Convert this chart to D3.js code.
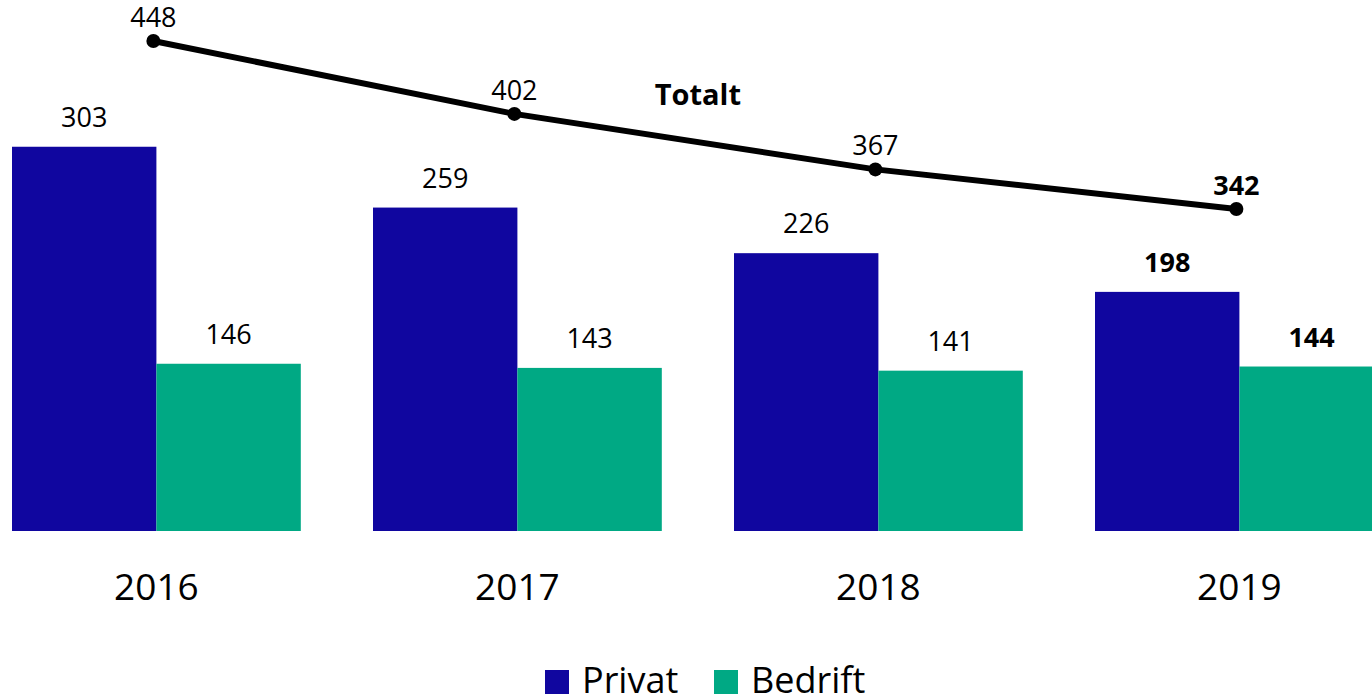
<!DOCTYPE html>
<html>
<head>
<meta charset="utf-8">
<script src="https://cdn.jsdelivr.net/npm/d3@7"></script>
<style>
  body { margin: 0; background: #fff; }
  svg { display: block; font-family: "Open Sans", sans-serif; }
</style>
</head>
<body>
<div id="chart"></div>
<script>
var svgWidth = 1372;
var svgHeight = 698;

// data
var years = ["2016", "2017", "2018", "2019"];
var privat = [303, 259, 226, 198];
var bedrift = [146, 143, 141, 144];
var totalt = [448, 402, 367, 342];
var seriesNames = ["Privat", "Bedrift"];
var colors = ["#10069f", "#00a984"];

var svg = d3.select("#chart")
  .append("svg")
  .attr("width", svgWidth)
  .attr("height", svgHeight);

// band per year, bars are the two halves
var x0 = d3.scaleBand()
  .domain(years)
  .range([12, 12 + 361 * 3.8])
  .paddingInner(0.2)
  .paddingOuter(0);

var x1 = d3.scaleBand()
  .domain(seriesNames)
  .range([0, x0.bandwidth()]);

// primary axis for the bars (does not start at zero)
var yBar = d3.scaleLinear()
  .domain([25, 400])
  .range([531, 531 - 375 * 1.3822]);

// secondary axis for the total line
var yLine = d3.scaleLinear()
  .domain([100, 500])
  .range([41 + 348 * 1.585, 41 - 52 * 1.585]);

var rows = years.map(function(y, i) {
  return { year: y, i: i, values: [privat[i], bedrift[i]] };
});

var groups = svg.selectAll(".year")
  .data(rows)
  .enter()
  .append("g")
  .attr("class", "year")
  .attr("transform", d => `translate(${x0(d.year)},0)`);

groups.selectAll("rect")
  .data(d => d.values.map((v, k) => ({ v: v, k: k, last: d.i === years.length - 1 })))
  .enter()
  .append("rect")
  .attr("x", d => x1(seriesNames[d.k]))
  .attr("y", d => yBar(d.v))
  .attr("width", x1.bandwidth())
  .attr("height", d => yBar(25) - yBar(d.v))
  .attr("fill", d => colors[d.k]);

groups.selectAll("text.val")
  .data(d => d.values.map((v, k) => ({ v: v, k: k, last: d.i === years.length - 1 })))
  .enter()
  .append("text")
  .attr("class", "val")
  .attr("x", d => x1(seriesNames[d.k]) + x1.bandwidth() / 2)
  .attr("y", d => yBar(d.v) - 20)
  .attr("text-anchor", "middle")
  .style("font-size", "27px")
  .style("font-weight", d => d.last ? "700" : "400")
  .text(d => d.v);

// year labels
svg.selectAll("text.yr")
  .data(years)
  .enter()
  .append("text")
  .attr("class", "yr")
  .attr("x", d => x0(d) + x0.bandwidth() / 2)
  .attr("y", 600)
  .attr("text-anchor", "middle")
  .style("font-size", "37px")
  .text(d => d);

// total line
var lx = d => x0(d) + x0.bandwidth() / 2 - 3;
var line = d3.line()
  .x((d, i) => lx(years[i]))
  .y(d => yLine(d));

svg.append("path")
  .datum(totalt)
  .attr("d", line)
  .attr("fill", "none")
  .attr("stroke", "#000")
  .attr("stroke-width", 6);

svg.selectAll("circle")
  .data(totalt)
  .enter()
  .append("circle")
  .attr("cx", (d, i) => lx(years[i]))
  .attr("cy", d => yLine(d))
  .attr("r", 7)
  .attr("fill", "#000");

svg.selectAll("text.tot")
  .data(totalt)
  .enter()
  .append("text")
  .attr("class", "tot")
  .attr("x", (d, i) => lx(years[i]))
  .attr("y", d => yLine(d) - 14)
  .attr("text-anchor", "middle")
  .style("font-size", "27px")
  .style("font-weight", (d, i) => i === totalt.length - 1 ? "700" : "400")
  .text(d => d);

// series label for the line
svg.append("text")
  .attr("x", (lx(years[1]) + lx(years[2])) / 2 + 3)
  .attr("y", 105)
  .attr("text-anchor", "middle")
  .style("font-size", "29px")
  .style("font-weight", "700")
  .text("Totalt");

// legend
var legendX = [545, 714];
var legend = svg.selectAll(".legend")
  .data(seriesNames)
  .enter()
  .append("g")
  .attr("class", "legend")
  .attr("transform", (d, i) => `translate(${legendX[i]}, 670)`);

legend.append("rect")
  .attr("width", 24)
  .attr("height", 24)
  .attr("fill", (d, i) => colors[i]);

legend.append("text")
  .attr("x", 37)
  .attr("y", 23)
  .style("font-size", "36px")
  .text(d => d);
</script>
</body>
</html>
